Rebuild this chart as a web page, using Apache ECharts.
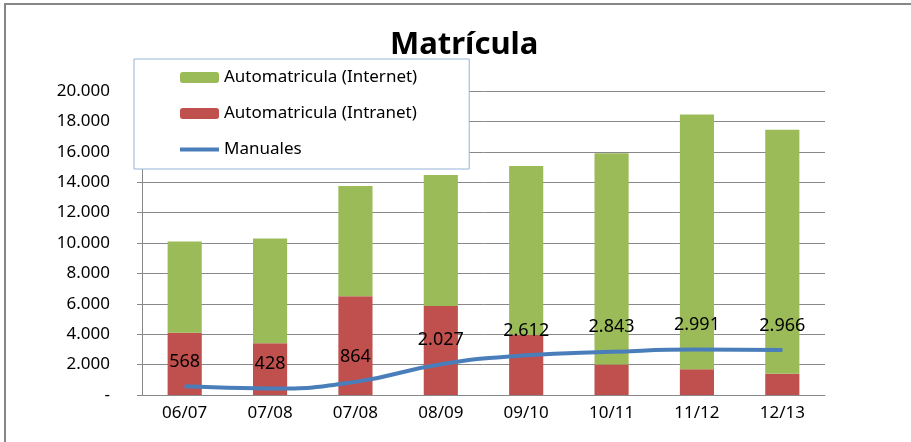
<!DOCTYPE html>
<html>
<head>
<meta charset="utf-8">
<script src="https://cdn.jsdelivr.net/npm/echarts@6/dist/echarts.min.js"></script>
<style>
  html, body { margin: 0; padding: 0; background: #fff; }
  #chart { width: 911px; height: 442px; }
</style>
</head>
<body>
<div id="chart"></div>
<script>
// cursos
var cursos = ['06/07', '07/08', '07/08', '08/09', '09/10', '10/11', '11/12', '12/13'];
// valores
var intranet = [4100, 3400, 6500, 5850, 3950, 2000, 1700, 1400];
var internet = [6000, 6900, 7250, 8630, 11120, 13900, 16750, 16050];
var manuales = [568, 428, 864, 2027, 2612, 2843, 2991, 2966];

function miles(v) {
    return String(v).replace(/\B(?=(\d{3})+(?!\d))/g, '.');
}

var fuente = '"Noto Sans", sans-serif';

var myChart = echarts.init(document.getElementById('chart'));
myChart.setOption({
    animation: false,
    textStyle: { fontFamily: fuente },
    title: {
        text: 'Matrícula',
        left: 385,
        top: 25,
        textStyle: { fontSize: 31, fontWeight: 'bold', color: '#000', fontFamily: fuente }
    },
    graphic: [
        {
            type: 'rect',
            shape: { x: 5, y: 4, width: 1000, height: 600 },
            style: { fill: 'none', stroke: '#868686', lineWidth: 2 },
            z: -1
        }
    ],
    legend: {
        orient: 'vertical',
        left: 134,
        top: 59,
        padding: [10, 52, 11, 44],
        itemGap: 19,
        itemWidth: 39,
        itemHeight: 11,
        backgroundColor: '#fff',
        borderColor: '#95b3d7',
        borderWidth: 1,
        textStyle: { fontSize: 17, color: '#000', fontFamily: fuente },
        data: [
            'Automatricula (Internet)',
            'Automatricula (Intranet)',
            { name: 'Manuales', itemStyle: { opacity: 0 }, lineStyle: { width: 4 } }
        ],
        z: 10
    },
    grid: {
        left: 142,
        right: 86,
        top: 91,
        bottom: 47
    },
    xAxis: {
        type: 'category',
        data: cursos,
        axisLine: { lineStyle: { color: '#888' } },
        axisTick: { length: 6, lineStyle: { color: '#888' } },
        axisLabel: { fontSize: 17, color: '#000', margin: 10 }
    },
    yAxis: {
        type: 'value',
        min: 0,
        max: 20000,
        interval: 2000,
        axisLine: { show: true, lineStyle: { color: '#888' } },
        axisTick: { show: true, length: 5, lineStyle: { color: '#888' } },
        splitLine: { lineStyle: { color: '#888' } },
        axisLabel: {
            fontSize: 17,
            color: '#000',
            margin: 32,
            formatter: function (v) { return v === 0 ? '-' : miles(v); }
        }
    },
    series: [
        {
            name: 'Automatricula (Intranet)',
            type: 'bar',
            stack: 'total',
            barWidth: '40%',
            data: intranet,
            itemStyle: { color: '#c0504d' }
        },
        {
            name: 'Automatricula (Internet)',
            type: 'bar',
            stack: 'total',
            data: internet,
            itemStyle: { color: '#9bbb59' }
        },
        {
            name: 'Manuales',
            type: 'line',
            smooth: true,
            symbol: 'circle',
            symbolSize: 1,
            showSymbol: true,
            data: manuales,
            lineStyle: { color: '#4a7ebb', width: 4 },
            itemStyle: { color: '#4a7ebb' },
            label: {
                show: true,
                position: 'top',
                distance: 15,
                fontSize: 18,
                color: '#000',
                formatter: function (p) { return miles(p.value); }
            },
            z: 5
        }
    ]
});
</script>
</body>
</html>
